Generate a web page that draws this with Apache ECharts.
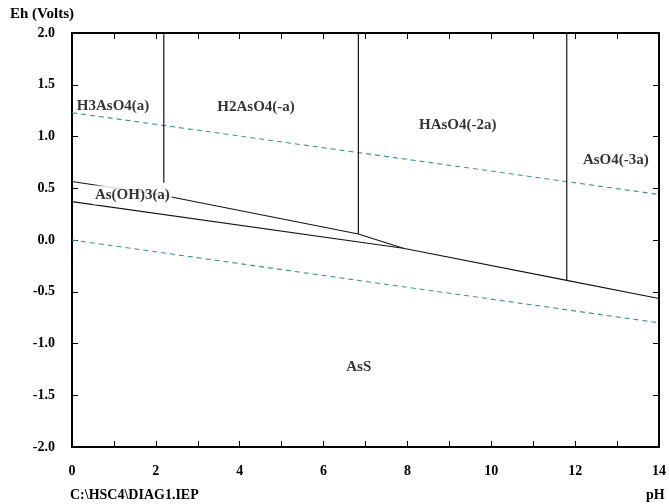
<!DOCTYPE html>
<html>
<head>
<meta charset="utf-8">
<script src="https://cdn.jsdelivr.net/npm/echarts@6/dist/echarts.min.js"></script>
<style>
  html, body { margin: 0; background: #fff; }
  #chart { width: 669px; height: 504px; }
</style>
</head>
<body>
<div id="chart"></div>
<script>
// Eh-pH diagram (As-S-H2O)
// boundaries as [pH, Eh]
const asOH3Upper = [[0, 0.565], [2.19, 0.43], [6.83, 0.058], [7.9, -0.08]];
const asOH3Lower = [[0, 0.37], [7.9, -0.08]];
const assUpper = [[7.9, -0.08], [11.8, -0.39], [14, -0.565]];
const vertH3H2 = [[2.19, 2.0], [2.19, 0.554]];
const vertH2H = [[6.83, 2.0], [6.83, 0.058]];
const vertHAsO4 = [[11.8, 2.0], [11.8, -0.39]];
// water stability lines
const waterO2 = [[0, 1.23], [14, 0.44]];
const waterH2 = [[0, 0.0], [14, -0.80]];
// region names [pH, Eh, name]
const regionLabels = [
  [0.98, 1.295, 'H3AsO4(a)'],
  [4.39, 1.285, 'H2AsO4(-a)'],
  [9.2, 1.11, 'HAsO4(-2a)'],
  [12.97, 0.773, 'AsO4(-3a)'],
  [1.44, 0.435, 'As(OH)3(a)'],
  [6.84, -1.227, 'AsS']
];

const FONT = '"Liberation Serif", "DejaVu Serif", serif';

let myChart = echarts.init(document.getElementById('chart'));

// solid boundary line
function solid(data) {
  return {
    type: 'line', data: data, symbol: 'none', silent: true, z: 3,
    lineStyle: { color: '#151515', width: 1.2 }
  };
}
// dashed water line
function dashed(data) {
  return {
    type: 'line', data: data, symbol: 'none', silent: true, z: 2,
    lineStyle: { color: '#3a9696', width: 1.1, type: [5, 4] }
  };
}

let xCommon = {
  type: 'value', min: 0, max: 14, interval: 1,
  axisLine: { show: true, onZero: false, lineStyle: { color: '#000', width: 2 } },
  axisTick: { show: true, inside: true, length: 6, lineStyle: { color: '#000', width: 1 } },
  splitLine: { show: false }
};
let yCommon = {
  type: 'value', min: -2, max: 2, interval: 0.5,
  axisLine: { show: true, onZero: false, lineStyle: { color: '#000', width: 2 } },
  axisTick: { show: true, inside: true, length: 6, lineStyle: { color: '#000', width: 1 } },
  splitLine: { show: false }
};

let option = {
  animation: false,
  backgroundColor: '#fff',
  grid: { left: 72, right: 10, top: 33, bottom: 57 },
  xAxis: [
    Object.assign({}, xCommon, {
      position: 'bottom',
      axisLabel: {
        margin: 17, color: '#000', fontFamily: FONT, fontWeight: 'bold', fontSize: 14,
        formatter: v => (v % 2 === 0 ? String(v) : '')
      }
    }),
    Object.assign({}, xCommon, { position: 'top', axisLabel: { show: false } })
  ],
  yAxis: [
    Object.assign({}, yCommon, {
      position: 'left',
      axisLabel: {
        margin: 17, color: '#000', fontFamily: FONT, fontWeight: 'bold', fontSize: 14,
        formatter: v => v.toFixed(1)
      }
    }),
    Object.assign({}, yCommon, { position: 'right', axisLabel: { show: false } })
  ],
  graphic: [
    { type: 'text', left: 10, top: 7,
      style: { text: 'Eh (Volts)', font: 'bold 15px ' + FONT, fill: '#000' } },
    { type: 'text', left: 70, top: 488,
      style: { text: 'C:\\HSC4\\DIAG1.IEP', font: 'bold 14px ' + FONT, fill: '#000' } },
    { type: 'text', left: 646, top: 488,
      style: { text: 'pH', font: 'bold 14px ' + FONT, fill: '#000' } }
  ],
  series: [
    dashed(waterO2),
    dashed(waterH2),
    solid(asOH3Upper),
    solid(asOH3Lower),
    solid(assUpper),
    solid(vertH3H2),
    solid(vertH2H),
    solid(vertHAsO4),
    {
      type: 'scatter', silent: true, z: 5, symbolSize: 0,
      data: regionLabels.map(r => {
        let item = { value: [r[0], r[1]], name: r[2] };
        if (r[2] === 'As(OH)3(a)') {
          item.label = { backgroundColor: '#fff', padding: [3, 2, 1, 2] };
        }
        return item;
      }),
      label: {
        show: true, position: 'inside', formatter: p => p.name,
        color: '#000', fontFamily: FONT, fontWeight: 'bold', fontSize: 15
      }
    }
  ]
};

myChart.setOption(option);
window.addEventListener('resize', myChart.resize);
</script>
</body>
</html>
